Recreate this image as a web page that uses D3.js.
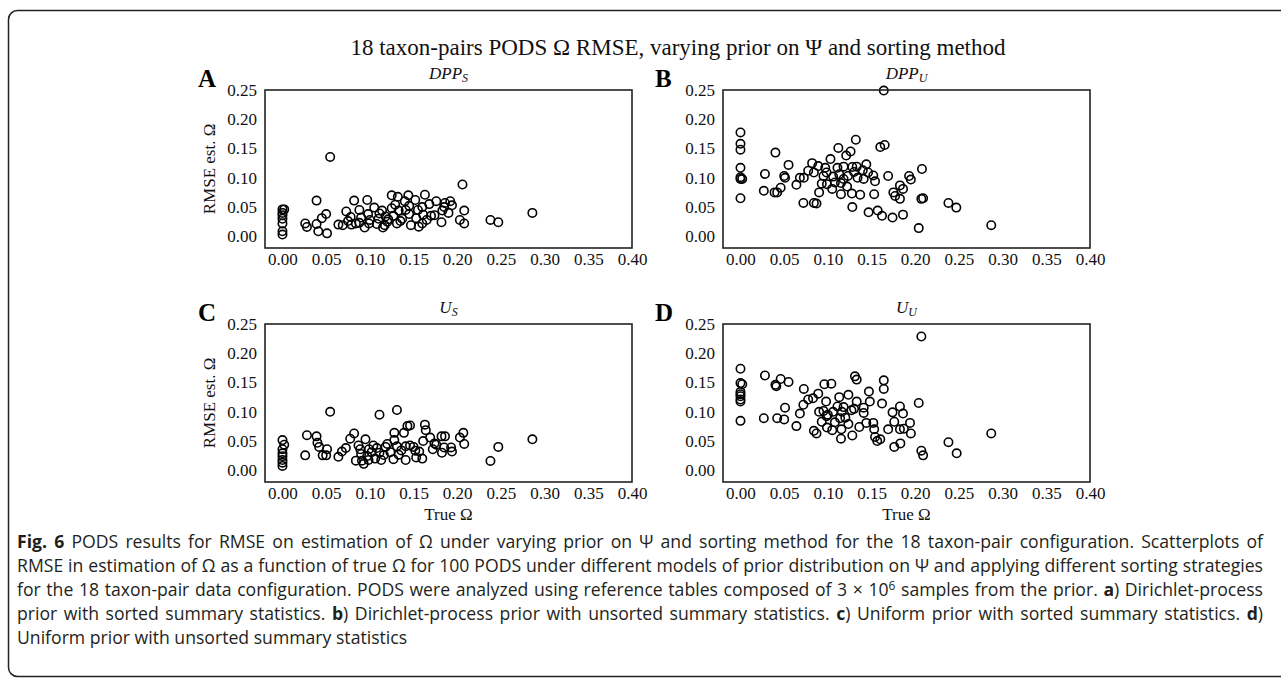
<!DOCTYPE html>
<html>
<head>
<meta charset="utf-8">
<script src="https://cdn.jsdelivr.net/npm/d3@7"></script>
<style>
  body { margin: 0; background: #fff; }
  svg { display: block; }
  .tick text { font-family: "Liberation Serif", "DejaVu Serif", serif; font-size: 17px; fill: #111; }
</style>
</head>
<body>
<svg id="chart" width="1281" height="678"></svg>
<script>
// tick labels
var xTicks = [0, 0.05, 0.10, 0.15, 0.20, 0.25, 0.30, 0.35, 0.40];
var yTicks = [0, 0.05, 0.10, 0.15, 0.20, 0.25];

// [true omega, rmse]
var pointsA = [
  [0, 0.046], [0.002, 0.046], [0, 0.040], [0, 0.036], [0, 0.030], [0, 0.022], [0, 0.0085], [0, 0.003],
  [0.0546, 0.1356], [0.206, 0.0885], [0.286, 0.040], [0.238, 0.028], [0.247, 0.024],
  [0.039, 0.061], [0.050, 0.038], [0.045, 0.031], [0.026, 0.022], [0.028, 0.016], [0.039, 0.021],
  [0.041, 0.0085], [0.051, 0.005], [0.064, 0.020], [0.069, 0.019], [0.073, 0.0425], [0.078, 0.033],
  [0.082, 0.061], [0.084, 0.022], [0.088, 0.045], [0.088, 0.023], [0.094, 0.015], [0.097, 0.062],
  [0.098, 0.038], [0.099, 0.022], [0.105, 0.049], [0.110, 0.030], [0.111, 0.039], [0.114, 0.044],
  [0.115, 0.015], [0.117, 0.019], [0.121, 0.029], [0.125, 0.070], [0.127, 0.035], [0.129, 0.054],
  [0.131, 0.022], [0.132, 0.0675], [0.133, 0.044], [0.137, 0.030], [0.140, 0.060], [0.141, 0.045],
  [0.144, 0.070], [0.145, 0.038], [0.147, 0.019], [0.152, 0.062], [0.153, 0.031], [0.156, 0.0165],
  [0.160, 0.022], [0.161, 0.037], [0.163, 0.071], [0.165, 0.028], [0.168, 0.055], [0.174, 0.036],
  [0.176, 0.060], [0.182, 0.024], [0.183, 0.044], [0.186, 0.057], [0.192, 0.060], [0.194, 0.053],
  [0.208, 0.044], [0.203, 0.028], [0.208, 0.022], [0.120, 0.025], [0.135, 0.026], [0.100, 0.028],
  [0.090, 0.032], [0.155, 0.045], [0.170, 0.035], [0.185, 0.050], [0.108, 0.021], [0.145, 0.052],
  [0.125, 0.048], [0.079, 0.020], [0.075, 0.026], [0.160, 0.050], [0.190, 0.040], [0.118, 0.034]
];

var pointsB = [
  [0, 0.1775], [0, 0.158], [0, 0.148], [0, 0.117], [0, 0.101], [0, 0.098], [0.002, 0.098], [0, 0.065],
  [0.028, 0.1065], [0.0267, 0.0777], [0.040, 0.143], [0.039, 0.075], [0.042, 0.075], [0.046, 0.083],
  [0.050, 0.103], [0.051, 0.100], [0.055, 0.122], [0.064, 0.088], [0.068, 0.100], [0.0725, 0.100],
  [0.072, 0.057], [0.0775, 0.112], [0.082, 0.125], [0.084, 0.109], [0.084, 0.057], [0.087, 0.056],
  [0.089, 0.120], [0.090, 0.075], [0.093, 0.090], [0.095, 0.103], [0.097, 0.117], [0.0985, 0.109],
  [0.099, 0.089], [0.103, 0.132], [0.105, 0.081], [0.108, 0.092], [0.111, 0.117], [0.112, 0.151],
  [0.113, 0.106], [0.115, 0.072], [0.115, 0.091], [0.118, 0.119], [0.121, 0.138], [0.123, 0.103],
  [0.126, 0.145], [0.1275, 0.073], [0.128, 0.1185], [0.128, 0.050], [0.132, 0.165], [0.133, 0.119],
  [0.134, 0.100], [0.137, 0.071], [0.140, 0.113], [0.141, 0.098], [0.144, 0.123], [0.146, 0.109],
  [0.1466, 0.041], [0.152, 0.104], [0.154, 0.094], [0.153, 0.072], [0.157, 0.044], [0.160, 0.1525],
  [0.165, 0.156], [0.162, 0.035], [0.169, 0.103], [0.174, 0.032], [0.175, 0.075], [0.177, 0.069],
  [0.1825, 0.087], [0.1825, 0.064], [0.186, 0.081], [0.186, 0.037], [0.193, 0.103], [0.195, 0.097],
  [0.204, 0.014], [0.207, 0.064], [0.209, 0.065], [0.2077, 0.115], [0.238, 0.057], [0.247, 0.049],
  [0.287, 0.019], [0.164, 0.249], [0.118, 0.098], [0.130, 0.110], [0.106, 0.102], [0.122, 0.085]
];

var pointsC = [
  [0, 0.0516], [0.002, 0.0437], [0, 0.036], [0, 0.029], [0, 0.024], [0, 0.0176], [0, 0.013], [0, 0.0074],
  [0.0546, 0.100], [0.111, 0.095], [0.131, 0.103], [0.286, 0.053], [0.247, 0.040], [0.238, 0.016],
  [0.028, 0.060], [0.026, 0.0255], [0.039, 0.058], [0.040, 0.047], [0.042, 0.040], [0.046, 0.0255],
  [0.051, 0.036], [0.050, 0.0255], [0.064, 0.023], [0.068, 0.032], [0.0725, 0.038], [0.0775, 0.054],
  [0.082, 0.063], [0.084, 0.0165], [0.087, 0.0425], [0.089, 0.036], [0.091, 0.0165], [0.093, 0.011],
  [0.095, 0.053], [0.097, 0.0245], [0.0985, 0.0176], [0.099, 0.036], [0.104, 0.0425], [0.106, 0.020],
  [0.111, 0.030], [0.113, 0.0176], [0.118, 0.040], [0.1235, 0.031], [0.127, 0.019], [0.128, 0.064],
  [0.128, 0.0516], [0.131, 0.041], [0.133, 0.0267], [0.139, 0.064], [0.141, 0.041], [0.141, 0.0176],
  [0.143, 0.0755], [0.146, 0.0766], [0.146, 0.0425], [0.152, 0.0335], [0.153, 0.022], [0.1565, 0.032],
  [0.160, 0.020], [0.161, 0.050], [0.163, 0.078], [0.164, 0.0686], [0.169, 0.056], [0.174, 0.046],
  [0.176, 0.0437], [0.182, 0.058], [0.1825, 0.030], [0.186, 0.058], [0.185, 0.039], [0.194, 0.032],
  [0.193, 0.039], [0.203, 0.056], [0.207, 0.064], [0.208, 0.045], [0.116, 0.026], [0.136, 0.034],
  [0.102, 0.031], [0.120, 0.045], [0.150, 0.040], [0.172, 0.036], [0.090, 0.028], [0.108, 0.038]
];

var pointsD = [
  [0, 0.1735], [0, 0.149], [0.002, 0.147], [0, 0.134], [0, 0.130], [0, 0.1265], [0, 0.121], [0, 0.1175], [0, 0.0845],
  [0.207, 0.2286], [0.287, 0.063], [0.238, 0.048], [0.2474, 0.029], [0.207, 0.0335], [0.209, 0.0255],
  [0.204, 0.115], [0.028, 0.162], [0.0267, 0.089], [0.040, 0.146], [0.041, 0.1435], [0.046, 0.156],
  [0.042, 0.089], [0.050, 0.087], [0.051, 0.107], [0.055, 0.151], [0.064, 0.0755], [0.068, 0.097],
  [0.072, 0.112], [0.0725, 0.139], [0.0775, 0.121], [0.083, 0.123], [0.084, 0.0675], [0.087, 0.063],
  [0.089, 0.131], [0.093, 0.083], [0.095, 0.1015], [0.096, 0.147], [0.098, 0.1175], [0.0985, 0.0925],
  [0.099, 0.073], [0.104, 0.148], [0.105, 0.0686], [0.106, 0.100], [0.111, 0.109], [0.113, 0.125],
  [0.114, 0.089], [0.115, 0.054], [0.1155, 0.070], [0.118, 0.108], [0.1235, 0.129], [0.1235, 0.079],
  [0.127, 0.1025], [0.128, 0.0595], [0.131, 0.1605], [0.133, 0.155], [0.133, 0.1175], [0.136, 0.074],
  [0.141, 0.107], [0.141, 0.098], [0.144, 0.081], [0.147, 0.1345], [0.148, 0.1175], [0.152, 0.081],
  [0.153, 0.070], [0.154, 0.057], [0.1565, 0.050], [0.160, 0.053], [0.162, 0.114], [0.164, 0.1537],
  [0.164, 0.139], [0.169, 0.070], [0.174, 0.099], [0.176, 0.083], [0.176, 0.040], [0.1825, 0.109],
  [0.183, 0.046], [0.1825, 0.070], [0.186, 0.097], [0.187, 0.071], [0.194, 0.081], [0.195, 0.063],
  [0.100, 0.095], [0.120, 0.090], [0.116, 0.100], [0.130, 0.105], [0.090, 0.100], [0.108, 0.082]
];

var panels = [
  { letter: "A", main: "DPP", sub: "S", data: pointsA, col: 0, row: 0 },
  { letter: "B", main: "DPP", sub: "U", data: pointsB, col: 1, row: 0 },
  { letter: "C", main: "U", sub: "S", data: pointsC, col: 0, row: 1 },
  { letter: "D", main: "U", sub: "U", data: pointsD, col: 1, row: 1 }
];

var title = "18 taxon-pairs PODS \u03a9 RMSE, varying prior on \u03a8 and sorting method";
var yLabel = "RMSE est. \u03a9";
var xLabel = "True \u03a9";

// caption lines: [text, bold, sup]
var captionLines = [
  [["Fig. 6", true], [" PODS results for RMSE on estimation of \u03a9 under varying prior on \u03a8 and sorting method for the 18 taxon-pair configuration. Scatterplots of", false]],
  [["RMSE in estimation of \u03a9 as a function of true \u03a9 for 100 PODS under different models of prior distribution on \u03a8 and applying different sorting strategies", false]],
  [["for the 18 taxon-pair data configuration. PODS were analyzed using reference tables composed of 3 \u00d7 10", false], ["6", false, true], [" samples from the prior. ", false], ["a", true], [") Dirichlet-process", false]],
  [["prior with sorted summary statistics. ", false], ["b", true], [") Dirichlet-process prior with unsorted summary statistics. ", false], ["c", true], [") Uniform prior with sorted summary statistics. ", false], ["d", true], [")", false]],
  [["Uniform prior with unsorted summary statistics", false]]
];

var serif = '"Liberation Serif", "DejaVu Serif", serif';
var sans = '"Open Sans", "Noto Sans", sans-serif';

var svg = d3.select("#chart");

// rounded outer box
svg.append("rect")
  .attr("x", 8.5).attr("y", 10.5)
  .attr("width", 1300).attr("height", 666)
  .attr("rx", 9)
  .attr("fill", "none")
  .attr("stroke", "#222")
  .attr("stroke-width", 1.5);

svg.append("text")
  .attr("x", 678).attr("y", 55)
  .attr("text-anchor", "middle")
  .style("font-family", serif)
  .style("font-size", "23px")
  .attr("fill", "#111")
  .text(title);

var frameW = 367, frameH = 158;
var colX = [265, 723], rowY = [90, 324];

var x = d3.scaleLinear().domain([-0.02, 0.40]).range([0, frameW]);
var y = d3.scaleLinear().domain([-0.02, 0.25]).range([frameH, 0]);

panels.forEach(function (p) {
  var g = svg.append("g")
    .attr("transform", "translate(" + colX[p.col] + "," + rowY[p.row] + ")");

  g.append("g")
    .call(d3.axisLeft(y).tickValues(yTicks).tickSize(0).tickPadding(8).tickFormat(d3.format(".2f")))
    .call(function (a) { a.select(".domain").remove(); });

  g.append("g")
    .attr("transform", "translate(0," + frameH + ")")
    .call(d3.axisBottom(x).tickValues(xTicks).tickSize(0).tickPadding(5).tickFormat(d3.format(".2f")))
    .call(function (a) { a.select(".domain").remove(); });

  g.append("g")
    .selectAll("circle")
    .data(p.data)
    .join("circle")
    .attr("cx", d => x(d[0]))
    .attr("cy", d => y(d[1]))
    .attr("r", 4.2)
    .attr("fill", "none")
    .attr("stroke", "#000")
    .attr("stroke-width", 1.6);

  g.append("rect")
    .attr("width", frameW).attr("height", frameH)
    .attr("fill", "none")
    .attr("stroke", "#222")
    .attr("stroke-width", 1.6);

  // panel title, mathtext style
  var t = g.append("text")
    .attr("x", frameW / 2).attr("y", -11)
    .attr("text-anchor", "middle")
    .style("font-family", serif)
    .style("font-style", "italic")
    .style("font-size", "17px")
    .attr("fill", "#111");
  t.append("tspan").text(p.main);
  t.append("tspan").attr("dy", 3).style("font-size", "12px").text(p.sub);

  g.append("text")
    .attr("x", p.col === 0 ? -67 : -68).attr("y", -3)
    .style("font-family", serif)
    .style("font-weight", "bold")
    .style("font-size", "25px")
    .attr("fill", "#000")
    .text(p.letter);

  if (p.col === 0) {
    g.append("text")
      .attr("transform", "translate(-50," + (frameH / 2) + ") rotate(-90)")
      .attr("text-anchor", "middle")
      .style("font-family", serif)
      .style("font-size", "17px")
      .attr("fill", "#111")
      .text(yLabel);
  }
  if (p.row === 1) {
    g.append("text")
      .attr("x", frameW / 2).attr("y", frameH + 38)
      .attr("text-anchor", "middle")
      .style("font-family", serif)
      .style("font-size", "17px")
      .attr("fill", "#111")
      .text(xLabel);
  }
});

// caption, justified except the last line
var capLeft = 17, capRight = 1263;
var capY = [548, 572, 596, 620, 644];
var capNodes = captionLines.map(function (line, i) {
  var t = svg.append("text")
    .attr("x", capLeft).attr("y", capY[i])
    .style("font-family", sans)
    .style("font-size", "16px")
    .attr("fill", "#231f20");
  var afterSup = false;
  line.forEach(function (part) {
    var s = t.append("tspan").text(part[0]);
    if (part[1]) s.style("font-weight", "bold");
    if (part[2]) { s.attr("dy", -6).classed("sup", true).style("font-size", "11px"); afterSup = true; }
    else if (afterSup) { s.attr("dy", 6); afterSup = false; }
  });
  return t;
});

// fit font so the widest justified line nearly fills the width
var widest = d3.max(capNodes.slice(0, 4), t => t.node().getComputedTextLength());
var capSize = 16 * (capRight - capLeft - 8) / widest;
capNodes.forEach(function (t, i) {
  t.style("font-size", capSize + "px");
  t.selectAll("tspan.sup").style("font-size", (capSize * 0.68) + "px");
  if (i < capNodes.length - 1) {
    var w = t.node().getComputedTextLength();
    var spaces = captionLines[i].map(d => d[0]).join("").split(" ").length - 1;
    t.style("word-spacing", ((capRight - capLeft - w) / spaces) + "px");
  }
});
</script>
</body>
</html>
